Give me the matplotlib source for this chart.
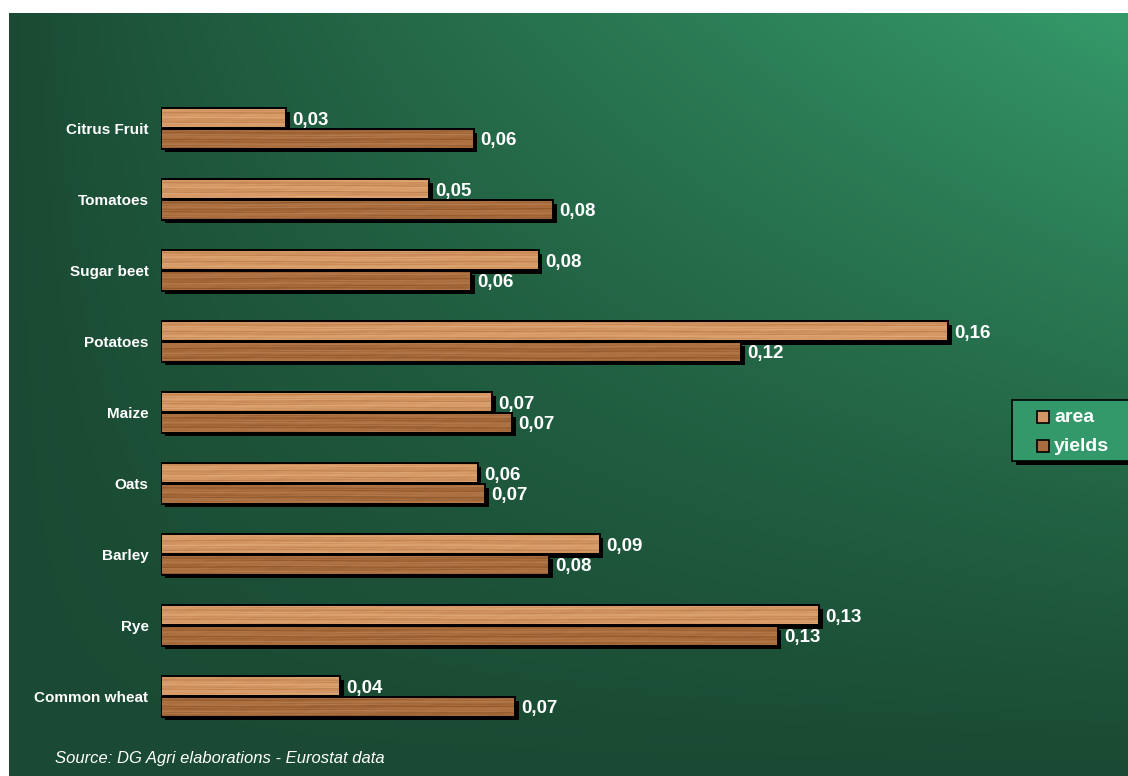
import numpy as np
import matplotlib
matplotlib.use("Agg")
import matplotlib.pyplot as plt
from matplotlib.patches import Rectangle
import matplotlib.patheffects as pe

plt.rcParams['font.family'] = ['Liberation Sans', 'DejaVu Sans']

# ---------------- data ----------------
categories = ["Citrus Fruit", "Tomatoes", "Sugar beet", "Potatoes", "Maize",
              "Oats", "Barley", "Rye", "Common wheat"]
area = [0.0255, 0.0545, 0.0768, 0.160, 0.0673, 0.0644, 0.0892, 0.1338, 0.0364]
yields = [0.0636, 0.0797, 0.0630, 0.118, 0.0714, 0.0659, 0.0789, 0.1254, 0.0720]
series_names = ["area", "yields"]
source_text = "Source: DG Agri elaborations - Eurostat data"

W, H = 1128, 776
fig = plt.figure(figsize=(W / 100, H / 100), dpi=100, facecolor="white")

def fx(x):
    return x / W

def fy(y):
    return 1 - y / H

# ---------------- background gradient ----------------
bg_ax = fig.add_axes([fx(9), 0, 1 - fx(9), fy(13)])
bg_ax.set_axis_off()
nx, ny = 400, 300
xx = np.linspace(0, 1, nx)[None, :]
yy = np.linspace(0, 1, ny)[:, None]  # 0 top, 1 bottom
t = np.clip(xx ** 0.9 * (1 - yy) ** 1.1, 0, 1)
dark = np.array([0x1a, 0x4a, 0x33]) / 255
bright = np.array([0x35, 0x9a, 0x6a]) / 255
grad = dark[None, None, :] + t[..., None] * (bright - dark)[None, None, :]
bg_ax.imshow(grad, aspect="auto", extent=(0, 1, 1, 0), interpolation="bilinear")
bg_ax.set_xlim(0, 1)
bg_ax.set_ylim(1, 0)

# ---------------- wood texture (deterministic pattern) ----------------
def wood(base, light, darkc, ncols=900, nrows=20, phase=0.0):
    u = np.linspace(0, 1, ncols)[None, :]
    v = np.linspace(0, 1, nrows)[:, None]
    g = (0.5
         + 0.13 * np.sin(2 * np.pi * (v * 2.3 + 0.15 * np.sin(2 * np.pi * (u * 1.7 + phase)) + phase))
         + 0.10 * np.sin(2 * np.pi * (v * 6.1 + 0.1 * np.sin(2 * np.pi * (u * 4.3 + 2 * phase)) + 3 * phase))
         + 0.09 * np.sin(2 * np.pi * (u * 3.1 + phase * 5)) * np.sin(2 * np.pi * (v * 9.7 + u * 0.8))
         + 0.03 * np.sin(2 * np.pi * (u * 23.0 + v * 1.9 + phase * 7)) * np.sin(2 * np.pi * (u * 7.0 + phase)))
    g = np.clip(g, 0, 1)
    base = np.array(matplotlib.colors.to_rgb(base))
    light = np.array(matplotlib.colors.to_rgb(light))
    darkc = np.array(matplotlib.colors.to_rgb(darkc))
    lo = base[None, None, :] + (darkc - base)[None, None, :] * (1 - 2 * np.minimum(g, 0.5))[..., None]
    hi = base[None, None, :] + (light - base)[None, None, :] * (2 * np.maximum(g, 0.5) - 1)[..., None]
    return np.where(g[..., None] < 0.5, lo, hi)

area_cols = ("#d49763", "#e8b588", "#b0723f")
yield_cols = ("#a86c3d", "#c3895a", "#7e4a20")

# ---------------- main axes ----------------
px_per_unit = 4919.0
ax_left, ax_top, ax_bottom = 161, 93, 732
xmax = 0.18
ax = fig.add_axes([fx(ax_left), fy(ax_bottom), xmax * px_per_unit / W, (ax_bottom - ax_top) / H])
ax.set_facecolor("none")
ax.patch.set_visible(False)
ax.set_xlim(0, xmax)
n = len(categories)
ax.set_ylim(-0.5, n - 0.5)
for s in ax.spines.values():
    s.set_visible(False)
ax.set_xticks([])
pos = np.array([n - 1 - i for i in range(n)], dtype=float)
ax.set_yticks(pos)
ax.set_yticklabels(categories, color="white", fontsize=11, fontweight="bold")
ax.tick_params(axis="y", length=0, pad=9)

unit_px = (ax_bottom - ax_top) / n
bh = 19.5 / unit_px
off = 10.3 / unit_px
shadow = [pe.SimplePatchShadow(offset=(2.6, -2.6), shadow_rgbFace="black", alpha=1.0), pe.Normal()]

def draw_series(vals, offset, cols, seed_phase):
    bars = ax.barh(pos + offset, vals, height=bh, color=cols[0], edgecolor="black",
                   linewidth=1.4, zorder=2, path_effects=shadow)
    for k, b in enumerate(bars):
        tex = wood(*cols, phase=seed_phase + 0.137 * k)
        y0 = b.get_y()
        im = ax.imshow(tex, aspect="auto", extent=(0, xmax, y0, y0 + bh),
                       interpolation="bilinear", zorder=3)
        im.set_clip_path(b)
    ax.barh(pos + offset, vals, height=bh, color="none", edgecolor="black",
            linewidth=1.4, zorder=4)
    for p, v in zip(pos, vals):
        ax.annotate(f"{v:.2f}".replace(".", ","), xy=(v, p + offset), xytext=(6, -2),
                    textcoords="offset pixels", ha="left", va="center",
                    color="white", fontsize=13.5, fontweight="bold", zorder=5)

draw_series(area, off, area_cols, 0.11)
draw_series(yields, -off, yield_cols, 0.53)
ax.set_ylim(-0.5, n - 0.5)
ax.set_xlim(0, xmax)

# ---------------- legend (manual) ----------------
leg_shadow = Rectangle((fx(1016), fy(465)), fx(140), 61 / H, transform=fig.transFigure,
                       facecolor="black", edgecolor="none", zorder=10)
fig.add_artist(leg_shadow)
leg_box = Rectangle((fx(1012), fy(461)), fx(140), 61 / H, transform=fig.transFigure,
                    facecolor="#34996a", edgecolor="black", linewidth=1.2, zorder=11)
fig.add_artist(leg_box)
for j, (name, cols) in enumerate(zip(series_names, [area_cols, yield_cols])):
    cy = 417 + j * 29
    sq = Rectangle((fx(1037), fy(cy + 6)), fx(12), 12 / H, transform=fig.transFigure,
                   facecolor=cols[0], edgecolor="black", linewidth=1.2, zorder=12)
    fig.add_artist(sq)
    fig.text(fx(1054), fy(cy + 1), name, color="white", fontsize=14, fontweight="bold",
             ha="left", va="center", zorder=13)

# ---------------- source ----------------
fig.text(fx(55), fy(758), source_text, color="white", fontsize=12, fontstyle="italic",
         ha="left", va="center")

fig.savefig("out.png", dpi=100, facecolor="white")
